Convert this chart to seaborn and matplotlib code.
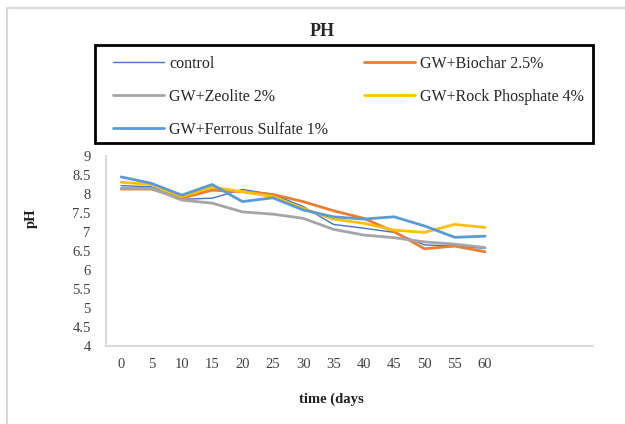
import matplotlib
matplotlib.use("Agg")
import matplotlib.pyplot as plt
import seaborn as sns
import pandas as pd
from matplotlib.patches import Rectangle
from matplotlib.lines import Line2D

days = [0, 5, 10, 15, 20, 25, 30, 35, 40, 45, 50, 55, 60]
control = [8.22, 8.19, 7.86, 7.89, 8.12, 7.99, 7.67, 7.20, 7.10, 6.99, 6.66, 6.63, 6.57]
biochar = [8.13, 8.13, 7.89, 8.10, 8.06, 7.99, 7.80, 7.56, 7.36, 7.01, 6.56, 6.63, 6.48]
zeolite = [8.15, 8.15, 7.84, 7.76, 7.53, 7.47, 7.36, 7.07, 6.92, 6.85, 6.74, 6.68, 6.59]
rock = [8.31, 8.25, 7.93, 8.18, 8.06, 7.93, 7.62, 7.34, 7.23, 7.05, 6.99, 7.20, 7.12]
ferrous = [8.45, 8.28, 7.97, 8.25, 7.80, 7.90, 7.58, 7.40, 7.34, 7.40, 7.16, 6.86, 6.89]

names = ["control", "GW+Biochar 2.5%", "GW+Zeolite 2%", "GW+Rock Phosphate 4%", "GW+Ferrous Sulfate 1%"]
series = [control, biochar, zeolite, rock, ferrous]
colors = ["#4472C4", "#ED7D31", "#A5A5A5", "#FFC000", "#5B9BD5"]
widths = [1.0, 2.0, 2.0, 2.0, 2.0]

rows = []
for n, s in zip(names, series):
    for d, v in zip(days, s):
        rows.append({"day": d, "pH": v, "series": n})
df = pd.DataFrame(rows)

sns.set_style("white")
plt.rcParams["font.family"] = ["Liberation Serif", "DejaVu Serif"]

W, H = 625, 424
fig = plt.figure(figsize=(W / 100, H / 100), dpi=100)

def fx(px):
    return px / W

def fy(py):
    return 1 - py / H

ax = fig.add_axes([fx(106), fy(346), fx(593) - fx(106), fy(156) - fy(346)])

handles = {}
for n, c, lw in zip(names, colors, widths):
    sub = df[df["series"] == n]
    sns.lineplot(data=sub, x="day", y="pH", ax=ax, color=c, linewidth=lw, label=n, legend=False)
    handles[n] = ax.lines[-1]

ax.set_xlim(-2.5, 77.8)
ax.set_ylim(4, 9)
ax.set_xticks(days)
ax.set_xticklabels([str(d) for d in days])
ax.set_yticks([4, 4.5, 5, 5.5, 6, 6.5, 7, 7.5, 8, 8.5, 9])
ax.set_yticklabels(["4", "4.5", "5", "5.5", "6", "6.5", "7", "7.5", "8", "8.5", "9"])
ax.tick_params(axis="both", length=0, labelsize=10.5, colors="#404040")
ax.tick_params(axis="y", pad=11)
ax.tick_params(axis="x", pad=9)
for sp in ["top", "right"]:
    ax.spines[sp].set_visible(False)
for sp in ["left", "bottom"]:
    ax.spines[sp].set_color("#D9D9D9")
    ax.spines[sp].set_linewidth(1.5)

ax.set_xlabel("time (days", fontsize=10.5, fontweight="bold", color="#202020")
ax.xaxis.set_label_coords((331 - 106) / (593 - 106), (346 - 393) / 190)
ax.set_ylabel("pH", fontsize=10.5, fontweight="bold", color="#202020")
ax.yaxis.set_label_coords((38 - 106) / (593 - 106), (346 - 218) / 190)

fig.text(fx(322), fy(31), "PH", ha="center", va="center", fontsize=13, fontweight="bold")

order = ["control", "GW+Zeolite 2%", "GW+Ferrous Sulfate 1%", "GW+Biochar 2.5%", "GW+Rock Phosphate 4%"]
leg = fig.legend([handles[n] for n in order], order, ncol=2, mode="expand",
                 bbox_to_anchor=(fx(113), fy(139), fx(584) - fx(113), fy(56) - fy(139)),
                 loc="upper left", frameon=False, fontsize=11.5,
                 handlelength=3.2, handletextpad=0.3, labelspacing=1.05,
                 borderpad=0.0, borderaxespad=0.0, columnspacing=2.0)

fig.patches.append(Rectangle((fx(95), fy(143)), fx(593) - fx(95), fy(45) - fy(143),
                             transform=fig.transFigure, fill=False,
                             edgecolor="black", linewidth=2.0))

fig.lines.append(Line2D([fx(7), fx(7)], [0, fy(8)], transform=fig.transFigure,
                        color="#D9D9D9", linewidth=1.5))
fig.lines.append(Line2D([fx(7), 1.0], [fy(8), fy(8)], transform=fig.transFigure,
                        color="#D9D9D9", linewidth=1.5))

fig.savefig("out.png", dpi=100)
